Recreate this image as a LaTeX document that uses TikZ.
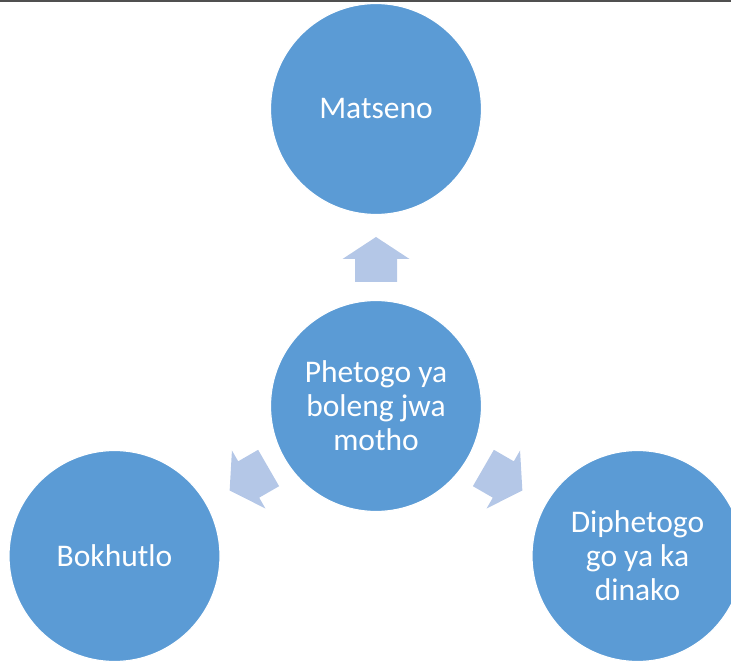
\documentclass[tikz,border=0pt]{standalone}
\usepackage{fontspec}
\setmainfont{Carlito}
\definecolor{circblue}{HTML}{5B9BD5}
\definecolor{arrowblue}{HTML}{B4C7E7}
\definecolor{topline}{HTML}{505050}
\begin{document}
\begin{tikzpicture}[x=1pt,y=1pt,
  bubble/.style={circle, fill=circblue, draw=white, line width=1.2pt,
    minimum size=211pt, inner sep=0pt, text=white, align=center,
    font=\fontsize{31.5}{34}\selectfont},
  blockarrow/.style={fill=arrowblue, draw=none}]
\useasboundingbox (0,0) rectangle (731,664);
\begin{scope}
\clip (0,0) rectangle (731,664);
\node[bubble] (c) at (376,258) {Phetogo ya\\boleng jwa\\motho};
\node[bubble] (t) at (376,555) {Matseno};
\node[bubble] (l) at (114.5,108) {Bokhutlo};
\node[bubble] (r) at (637.5,108) {Diphetogo\\go ya ka\\dinako};
\foreach \a in {90,210,330}{
  \begin{scope}[shift={(c.center)}, rotate=\a]
    \fill[blockarrow] (124,-21) -- (147,-21) -- (147,-33.5) -- (169,0)
      -- (147,33.5) -- (147,21) -- (124,21) -- cycle;
  \end{scope}
}
\end{scope}
\draw[topline, line width=2pt] (0,662.5) -- (731,662.5);
\end{tikzpicture}
\end{document}
